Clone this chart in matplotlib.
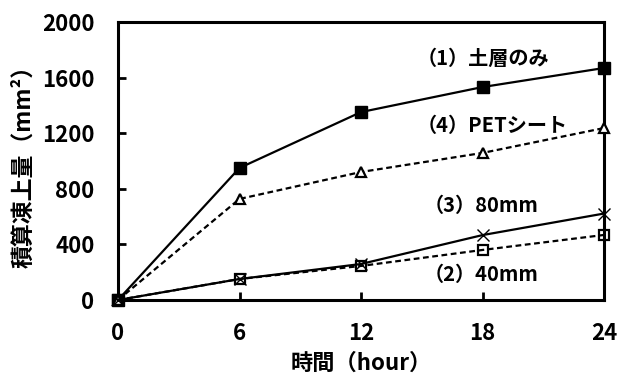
import matplotlib
matplotlib.use('Agg')
import matplotlib.pyplot as plt

plt.rcParams['font.family'] = ['Noto Sans CJK JP', 'DejaVu Sans']
plt.rcParams['font.weight'] = 'bold'

# data
hours = [0, 6, 12, 18, 24]
soil_only = [0, 950, 1352, 1532, 1669]   # (1) 土層のみ
mm40 = [0, 151, 245, 360, 468]           # (2) 40mm
mm80 = [0, 151, 259, 467, 622]           # (3) 80mm
pet = [0, 727, 921, 1058, 1237]          # (4) PETシート

labels = ['（1）土層のみ', '（2）40mm', '（3）80mm', '（4）PETシート']
label_x = [14.75, 15.1, 15.1, 14.75]
label_y = [1740, 180, 683, 1252]

fig = plt.figure(figsize=(6.29, 3.78), dpi=100)
ax = fig.add_axes([118/629, 78/378, 486/629, 278/378])

dash = (0, (2.6, 1.6))
ax.plot(hours, soil_only, color='black', lw=1.6, marker='s', ms=8,
        mfc='black', mec='black', clip_on=False, zorder=5)
ax.plot(hours, pet, color='black', lw=1.6, ls=dash, marker='^', ms=7.5,
        mfc='white', mec='black', mew=1.6, clip_on=False, zorder=5)
ax.plot(hours, mm80, color='black', lw=1.6, marker='x', ms=9,
        mec='black', mew=1.0, clip_on=False, zorder=5)
ax.plot(hours, mm40, color='black', lw=1.6, ls=dash, marker='s', ms=7.5,
        mfc='none', mec='black', mew=1.6, clip_on=False, zorder=5)

for lab, xv, yv in zip(labels, label_x, label_y):
    ax.text(xv, yv, lab, ha='left', va='center', fontsize=14.5, fontweight='bold')

ax.set_xlim(0, 24)
ax.set_ylim(0, 2000)
ax.set_xticks([0, 6, 12, 18, 24])
ax.set_yticks([0, 400, 800, 1200, 1600, 2000])
ax.tick_params(direction='in', length=6, width=2, labelsize=16)
ax.tick_params(axis='y', pad=17)
ax.tick_params(axis='x', pad=16)
for lbl in ax.get_xticklabels() + ax.get_yticklabels():
    lbl.set_fontweight('bold')
for sp in ax.spines.values():
    sp.set_linewidth(2.2)

ax.set_xlabel('時間（hour）', fontsize=16, fontweight='bold', labelpad=5)
ax.set_ylabel('積算凍上量（mm²）', fontsize=16.5, fontweight='bold', labelpad=5)

fig.savefig('out.png', dpi=100)
